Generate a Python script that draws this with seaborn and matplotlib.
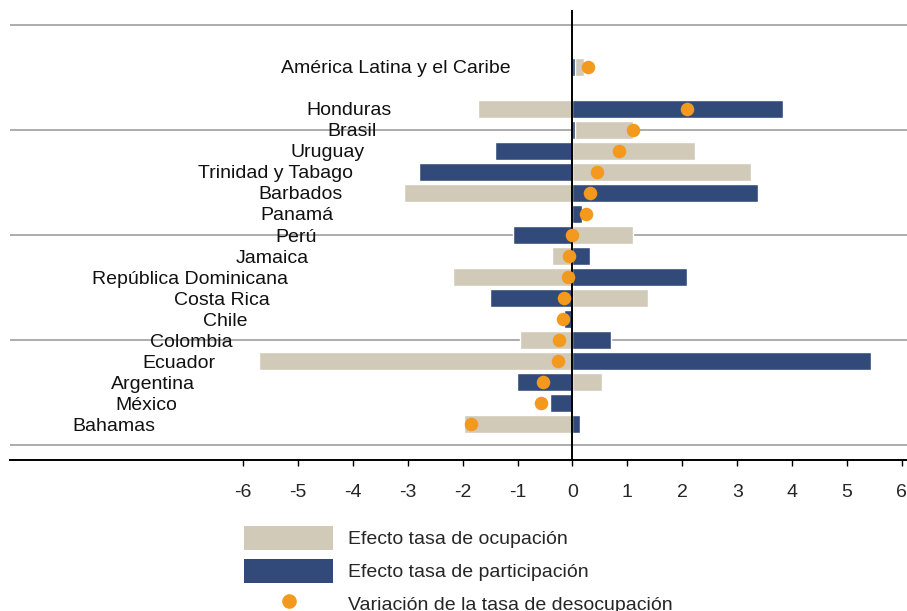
import numpy as np
import pandas as pd
import seaborn as sns
import matplotlib.pyplot as plt
from matplotlib.patches import Patch
from matplotlib.lines import Line2D

# Data (percentage points)
paises = ['América Latina y el Caribe', 'Honduras', 'Brasil', 'Uruguay', 'Trinidad y Tabago',
          'Barbados', 'Panamá', 'Perú', 'Jamaica', 'República Dominicana', 'Costa Rica',
          'Chile', 'Colombia', 'Ecuador', 'Argentina', 'México', 'Bahamas']
ocupacion = [0.16, -1.73, 1.05, 2.23, 3.25, -3.07, 0.0, 1.10, -0.37, -2.17, 1.37,
             0.0, -0.95, -5.71, 0.53, 0.0, -1.97]
participacion = [0.05, 3.83, 0.05, -1.42, -2.79, 3.38, 0.17, -1.08, 0.31, 2.08, -1.50,
                 -0.16, 0.71, 5.44, -1.02, -0.41, 0.14]
desocupacion = [0.29, 2.08, 1.11, 0.84, 0.44, 0.31, 0.24, 0.0, -0.06, -0.09, -0.15,
                -0.17, -0.25, -0.27, -0.53, -0.57, -1.85]
ticks = [-6, -5, -4, -3, -2, -1, 0, 1, 2, 3, 4, 5, 6]

# row positions: regional aggregate, one empty row, then countries
filas = [0] + list(range(2, 18))
# right end of each label (x data units), labels sit on a diagonal in the original
label_x = [-1.13, -3.29, -3.56, -3.78, -4.00, -4.19, -4.36, -4.66, -4.81, -5.18, -5.51,
           -5.92, -6.19, -6.51, -6.88, -7.20, -7.59]

beige = '#d1cab9'
navy = '#324a79'
orange = '#f39a1e'

df = pd.DataFrame({'pais': paises, 'fila': filas, 'ocup': ocupacion,
                   'part': participacion, 'desoc': desocupacion})
# occupation bar stacks on top of participation bar when both have the same sign
same = np.sign(df['ocup']) == np.sign(df['part'])
df['ocup_fin'] = np.where(same & (df['ocup'] != 0), df['ocup'] + df['part'], df['ocup'])

sns.set_style('white')
plt.rcParams['font.family'] = ['Liberation Sans', 'DejaVu Sans']
plt.rcParams['axes.unicode_minus'] = False

fig = plt.figure(figsize=(9.07, 6.11), dpi=100)
ax = fig.add_axes([10 / 907, 1 - 460 / 611, 897 / 907, 450 / 611])

sns.barplot(data=df, x='ocup_fin', y='fila', orient='h', native_scale=True,
            color=beige, saturation=1, width=0.82, errorbar=None, ax=ax, zorder=2)
sns.barplot(data=df, x='part', y='fila', orient='h', native_scale=True,
            color=navy, saturation=1, width=0.82, errorbar=None, ax=ax, zorder=3)
sns.scatterplot(data=df, x='desoc', y='fila', color=orange, s=95, linewidth=0,
                ax=ax, zorder=5)

ax.axvline(0, color='black', lw=1.4, zorder=4)

for lx, fila, nombre in zip(label_x, filas, paises):
    ax.text(lx, fila, nombre, ha='right', va='center_baseline', fontsize=14,
            color='#111111', zorder=6)

ax.set_xlim(-10.246, 6.093)
ax.set_ylim(18.71, -2.71)
ax.set_xticks(ticks)
ax.set_xticklabels([str(t) for t in ticks], fontsize=14)
ax.set_yticks([-2, 3, 8, 13, 18])
ax.set_yticklabels([])
ax.tick_params(axis='y', length=0)
ax.tick_params(axis='x', direction='out', length=4, width=1, color='black', pad=13,
               bottom=True)
ax.yaxis.grid(True, color='#a6a6a6', lw=1.3)
ax.set_axisbelow(True)
ax.set_xlabel('')
ax.set_ylabel('')
for s in ['top', 'left', 'right']:
    ax.spines[s].set_visible(False)
ax.spines['bottom'].set_color('black')
ax.spines['bottom'].set_linewidth(1.4)

handles = [Patch(facecolor=beige, edgecolor='none'),
           Patch(facecolor=navy, edgecolor='none'),
           Line2D([], [], marker='o', linestyle='none', color=orange, markersize=9.5)]
labels = ['Efecto tasa de ocupación', 'Efecto tasa de participación',
          'Variación de la tasa de desocupación']
fig.legend(handles, labels, loc='upper left', bbox_to_anchor=(244 / 907, 1 - 526 / 611),
           frameon=False, fontsize=14, handlelength=4.6, handleheight=1.52,
           handletextpad=0.75, labelspacing=0.45, borderpad=0, borderaxespad=0)

plt.savefig('out.png', dpi=100)
